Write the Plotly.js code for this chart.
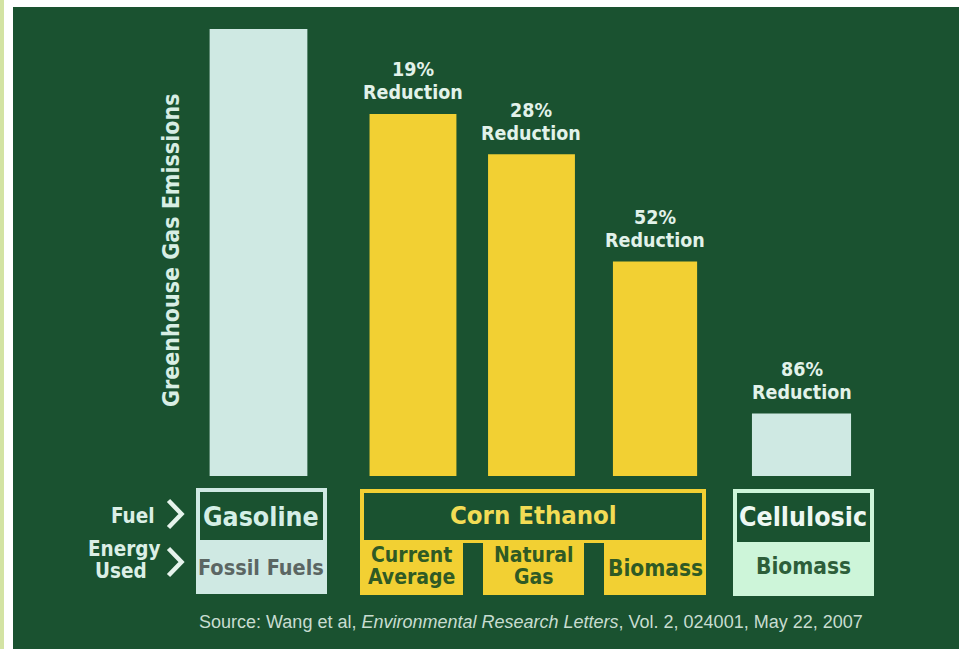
<!DOCTYPE html>
<html>
<head>
<meta charset="utf-8">
<script src="https://cdn.plot.ly/plotly-3.0.1.min.js"></script>
<style>html,body{margin:0;padding:0;background:#fff;}#chart{width:959px;height:649px;}</style>
</head>
<body>
<div id="chart"></div>
<script>
// ---- data ----
const fuels = ['Gasoline', 'Corn Ethanol', 'Cellulosic'];
const barFuel = ['Gasoline', 'Corn Ethanol', 'Corn Ethanol', 'Corn Ethanol', 'Cellulosic'];
const energyUsed = [['Fossil Fuels'], ['Current', 'Average'], ['Natural', 'Gas'], ['Biomass'], ['Biomass']];
const emissions = [100, 81, 72, 48, 14];          // relative greenhouse gas emissions (gasoline = 100)
const reductionPct = [null, 19, 28, 52, 86];
const yTitle = 'Greenhouse Gas Emissions';
const sourceText = 'Source: Wang et al, <i>Environmental Research Letters</i>, Vol. 2, 024001, May 22, 2007';

// ---- layout / style (not data) ----
const slotPos = [0, 1.138, 2.011, 2.921, 4];
const slotWidth = [0.72, 0.64, 0.64, 0.62, 0.73];
const GREEN = '#1a5230', PALE = '#cfe9e3', YEL = '#f2d033', MINT = '#cdf5d9';
const barColors = barFuel.map(f => f === 'Corn Ethanol' ? YEL : PALE);
const FONT = "'Liberation Sans Narrow', 'DejaVu Sans Condensed', 'Arial Narrow', sans-serif";
const W = 959, H = 649;
const px = x => x / W, py = y => 1 - y / H;

const shapes = [];
const annotations = [];
function rect(x0, y0, x1, y1, color, layer) {
  shapes.push({type: 'rect', xref: 'paper', yref: 'paper', x0: px(x0), x1: px(x1), y0: py(y1), y1: py(y0),
    fillcolor: color, line: {width: 0}, layer: layer || 'above'});
}
function txt(text, x, y, size, color, extra) {
  annotations.push(Object.assign({text: text, xref: 'paper', yref: 'paper', x: px(x), y: py(y),
    xanchor: 'center', yanchor: 'middle', showarrow: false,
    font: {family: FONT, size: size, color: color, weight: 'bold'}}, extra || {}));
}
function chevron(xc, yc) {
  const w = 6.5, h = 13.5;
  shapes.push({type: 'path', xref: 'paper', yref: 'paper',
    path: `M ${px(xc - w)},${py(yc - h)} L ${px(xc + w)},${py(yc)} L ${px(xc - w)},${py(yc + h)}`,
    line: {color: '#e6f3ec', width: 4.5}, layer: 'above'});
}

// page frame
rect(0, 0, W, 7, '#ffffff');
rect(0, 0, 13, H, '#ffffff');
rect(0, 0, 4, H, '#d3e3a3');

// Gasoline box
rect(196, 488, 327, 594, PALE);
rect(200, 492, 323, 540, GREEN);
// Corn ethanol frame
rect(360, 489, 706, 543, YEL);
rect(364, 493, 702, 540, GREEN);
rect(360, 540, 463, 595, YEL);
rect(483, 540, 584, 595, YEL);
rect(604, 540, 706, 595, YEL);
// Cellulosic box
rect(733, 489, 874, 596, MINT);
rect(737, 493, 870, 542, GREEN);

// category labels
txt(fuels[0], 261, 516, 26.5, '#d5efe6');
txt(fuels[1], 533, 515, 25.5, '#f2dc55');
txt(fuels[2], 803, 516, 26.5, '#eef8f2');
const energyCenters = [[261, 567], [411, 566], [533.5, 566], [655, 568], [803, 566]];
const energySizes = [21.5, 21, 21, 22.5, 22.5];
const energyColors = ['#5b6663', '#2f5a25', '#2f5a25', '#2f5a25', '#2d5e3a'];
energyUsed.forEach((lines, i) => {
  const [cx, cy] = energyCenters[i];
  if (lines.length === 1) txt(lines[0], cx, cy, energySizes[i], energyColors[i]);
  else {
    txt(lines[0], cx, cy - 11, energySizes[i], energyColors[i]);
    txt(lines[1], cx, cy + 11, energySizes[i], energyColors[i]);
  }
});

// row labels
txt('Fuel', 157, 516, 20.5, '#dcefe6', {xanchor: 'right'});
txt('Energy', 124, 549, 20.5, '#dcefe6');
txt('Used', 121, 571, 20.5, '#dcefe6');
chevron(175, 514);
chevron(175, 562);

// y title
txt(yTitle, 171, 250, 23, '#d8eee4', {textangle: -90});

// source
annotations.push({text: sourceText, xref: 'paper', yref: 'paper', x: px(531), y: py(622),
  xanchor: 'center', yanchor: 'middle', showarrow: false,
  font: {family: "'Liberation Sans', Arial, sans-serif", size: 18, color: '#c8ddd0'}});

// reduction labels (placed through the data axes)
reductionPct.forEach((p, i) => {
  if (p === null) return;
  annotations.push({text: p + '%', x: slotPos[i], y: emissions[i], xref: 'x', yref: 'y',
    xanchor: 'center', yanchor: 'middle', yshift: 44, showarrow: false,
    font: {family: FONT, size: 19.5, color: '#e2f2ea', weight: 'bold'}});
  annotations.push({text: 'Reduction', x: slotPos[i], y: emissions[i], xref: 'x', yref: 'y',
    xanchor: 'center', yanchor: 'middle', yshift: 21, showarrow: false,
    font: {family: FONT, size: 19.5, color: '#e2f2ea', weight: 'bold'}});
});

const trace = {
  type: 'bar', x: slotPos, y: emissions, width: slotWidth,
  marker: {color: barColors, line: {width: 0}},
  hoverinfo: 'skip', showlegend: false
};

const layout = {
  width: W, height: H,
  margin: {l: 0, r: 0, t: 0, b: 0, pad: 0},
  paper_bgcolor: GREEN, plot_bgcolor: 'rgba(0,0,0,0)',
  xaxis: {range: [-258.5 / 135.75, (959 - 258.5) / 135.75], visible: false, fixedrange: true},
  yaxis: {range: [-(649 - 476) / 4.47, 476 / 4.47], visible: false, fixedrange: true},
  shapes: shapes, annotations: annotations, showlegend: false
};

Plotly.newPlot('chart', [trace], layout, {displayModeBar: false, staticPlot: true});
</script>
</body>
</html>
